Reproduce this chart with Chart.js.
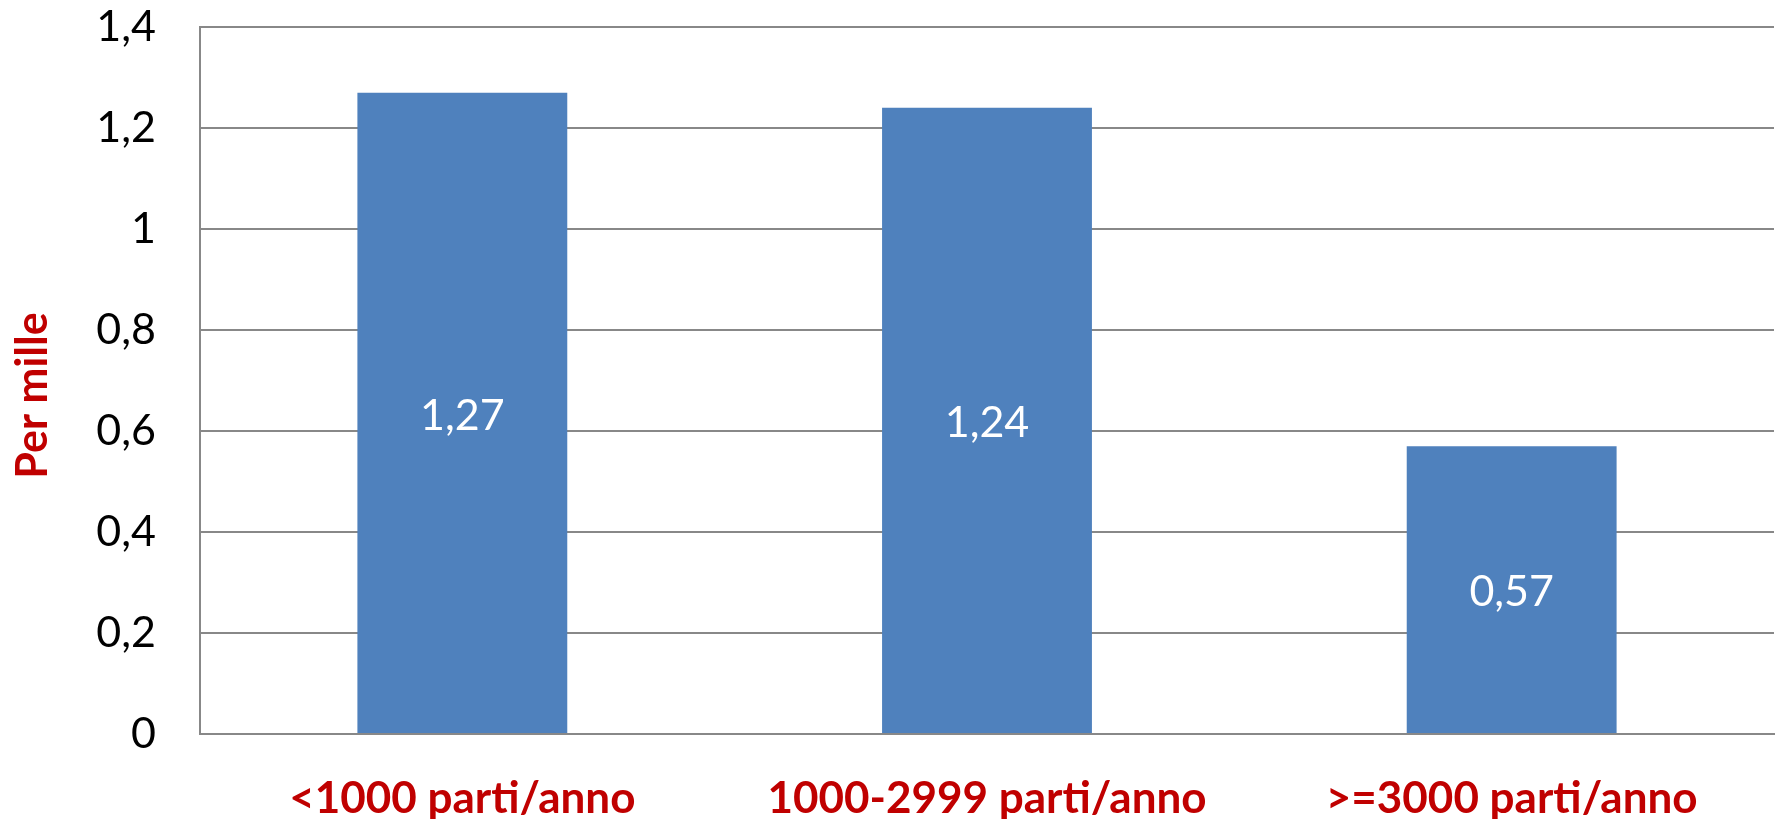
<!DOCTYPE html>
<html>
<head>
<meta charset="utf-8">
<script src="https://cdn.jsdelivr.net/npm/chart.js@4.4.1/dist/chart.umd.min.js"></script>
<style>
html,body{margin:0;padding:0;background:#fff;}
canvas{display:block;}
</style>
</head>
<body>
<canvas id="c" width="1779" height="819"></canvas>
<script>
const categories = ['<1000 parti/anno', '1000-2999 parti/anno', '>=3000 parti/anno'];
const values = [1.27, 1.24, 0.57];
const yTicks = [0, 0.2, 0.4, 0.6, 0.8, 1, 1.2, 1.4];
const yTitle = 'Per mille';

const fmt = v => String(Math.round(v * 100) / 100).replace('.', ',');
const FONT = 'Lato, "Open Sans", "Liberation Sans", sans-serif';

const valueLabels = {
  id: 'valueLabels',
  afterDatasetsDraw(chart) {
    const ctx = chart.ctx;
    const meta = chart.getDatasetMeta(0);
    ctx.save();
    ctx.fillStyle = '#ffffff';
    ctx.font = '43px ' + FONT;
    ctx.textAlign = 'center';
    ctx.textBaseline = 'middle';
    meta.data.forEach((bar, i) => {
      const p = bar.getProps(['x', 'y', 'base'], true);
      ctx.fillText(fmt(chart.data.datasets[0].data[i]), p.x, (p.y + p.base) / 2 + 3);
    });
    ctx.restore();
  }
};

const yTitlePlugin = {
  id: 'yTitlePlugin',
  afterDraw(chart) {
    const ctx = chart.ctx;
    const area = chart.chartArea;
    ctx.save();
    ctx.translate(47, (area.top + area.bottom) / 2 + 15);
    ctx.rotate(-Math.PI / 2);
    ctx.fillStyle = '#C00000';
    ctx.font = 'bold 43px ' + FONT;
    ctx.textAlign = 'center';
    ctx.textBaseline = 'alphabetic';
    ctx.fillText(yTitle, 0, 0);
    ctx.restore();
  }
};

new Chart(document.getElementById('c'), {
  type: 'bar',
  data: {
    labels: categories,
    datasets: [{
      data: values,
      backgroundColor: '#4F81BD',
      borderWidth: 0,
      barPercentage: 0.4,
      categoryPercentage: 1.0
    }]
  },
  options: {
    responsive: false,
    animation: false,
    devicePixelRatio: 1,
    layout: { autoPadding: false, padding: { top: 27, right: 5, bottom: 0, left: 0 } },
    plugins: { legend: { display: false }, tooltip: { enabled: false } },
    scales: {
      x: {
        grid: { display: false, drawTicks: false },
        border: { display: true, color: '#888888', width: 2 },
        ticks: {
          color: '#C00000',
          font: { family: FONT, size: 44, weight: 'bold' },
          padding: 38,
          maxRotation: 0,
          autoSkip: false
        },
        afterFit: s => { s.height = 85; s.paddingLeft = 0; s.paddingRight = 0; }
      },
      y: {
        min: 0,
        max: 1.4,
        afterBuildTicks: s => { s.ticks = yTicks.map(v => ({ value: v })); },
        grid: { color: '#888888', lineWidth: 2, drawTicks: false },
        border: { display: true, color: '#888888', width: 2 },
        ticks: {
          color: '#000000',
          font: { family: FONT, size: 43 },
          padding: 44,
          callback: v => fmt(v)
        },
        title: { display: false },
        afterFit: s => { s.width = 200; s.paddingTop = 0; s.paddingBottom = 0; }
      }
    }
  },
  plugins: [valueLabels, yTitlePlugin]
});
</script>
</body>
</html>
